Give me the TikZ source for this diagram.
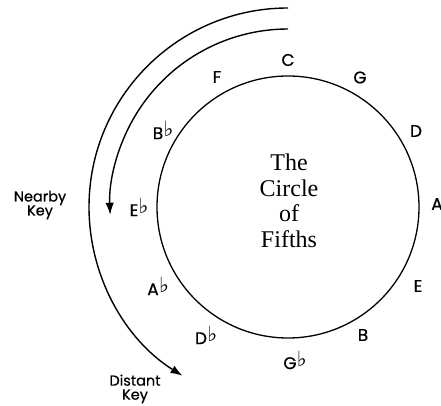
\documentclass[tikz,border=0pt]{standalone}
\usepackage{fontspec}
\setmainfont{Liberation Serif}
\setsansfont{Poppins}[FakeBold=0.6]
\newfontfamily\symf{DejaVu Sans}
\usetikzlibrary{arrows.meta,calc}
\newcommand\flt{\rlap{\kern0.3pt\raisebox{3pt}{\symf\fontsize{21}{21}\selectfont ♭}}}
\tikzset{
  keylbl/.style={font=\sffamily\fontsize{17}{17}\selectfont, inner sep=0pt},
  sidelbl/.style={font=\sffamily\fontsize{14.5}{14}\selectfont, align=center, inner sep=0pt},
  arcline/.style={line width=1.4pt, -{Latex[length=12pt,width=8.5pt]}}
}
\begin{document}
\begin{tikzpicture}[x=1pt,y=1pt]
\useasboundingbox (0,0) rectangle (441,406);
% main circle
\coordinate (ctr) at (288,199);
\node[draw, circle, line width=1.3pt, minimum size=262pt, inner sep=0pt] (wheel) at (ctr) {};
\node[font=\fontsize{24}{25.5}\selectfont, align=center] (title) at (289,205) {The\\Circle\\of\\Fifths};
% arcs
\coordinate (outerstart) at ($(ctr)+(0,199)$);
\coordinate (innerstart) at ($(ctr)+(0,178)$);
\draw[arcline] (outerstart) arc[start angle=90, end angle=238, radius=199pt] coordinate (outerend);
\draw[arcline] (innerstart) arc[start angle=90, end angle=182.5, radius=178pt] coordinate (innerend);
% key labels
\node[keylbl] (kC)  at (288,346) {C};
\node[keylbl] (kG)  at (360,328.5) {G};
\node[keylbl] (kD)  at (416,275) {D};
\node[keylbl] (kA)  at (437,202) {A};
\node[keylbl] (kE)  at (418,120) {E};
\node[keylbl] (kB)  at (363,71) {B};
\node[keylbl] (kGb) at (290,46) {G\flt};
\node[keylbl] (kDb) at (201,71) {D\flt};
\node[keylbl] (kAb) at (153,120) {A\flt};
\node[keylbl] (kEb) at (134,199) {E\flt};
\node[keylbl] (kBb) at (158,276) {B\flt};
\node[keylbl] (kF)  at (217,329) {F};
% side labels
\node[sidelbl] (nearby) at (40,201) {Nearby\\Key};
\node[sidelbl] (distant) at (135,17) {Distant\\Key};
\end{tikzpicture}
\end{document}
